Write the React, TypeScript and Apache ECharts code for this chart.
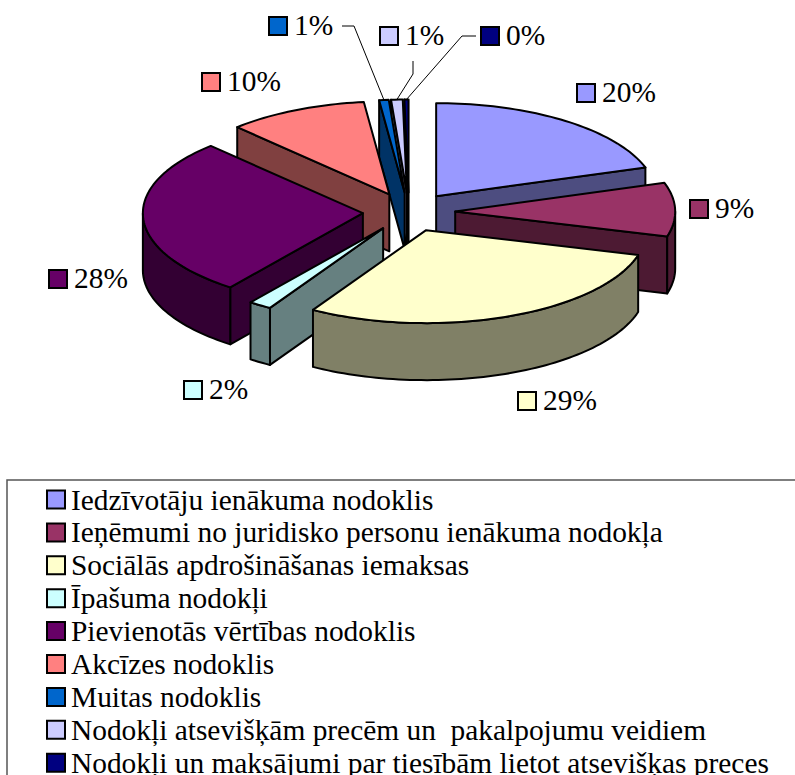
import React, { useEffect, useRef } from "react";
import * as echarts from "echarts";

const categories = [
  "Iedzīvotāju ienākuma nodoklis",
  "Ieņēmumi no juridisko personu ienākuma nodokļa",
  "Sociālās apdrošināšanas iemaksas",
  "Īpašuma nodokļi",
  "Pievienotās vērtības nodoklis",
  "Akcīzes nodoklis",
  "Muitas nodoklis",
  "Nodokļi atsevišķām precēm un  pakalpojumu veidiem",
  "Nodokļi un maksājumi par tiesībām lietot atsevišķas preces",
];
const shares = [20.0, 9.3, 29.3, 1.7, 27.55, 10.3, 0.7, 0.85, 0.3];
const topColors = ["#9999FF", "#993366", "#FFFFCC", "#CCFFFF", "#660066", "#FF8080", "#0066CC", "#CCCCFF", "#000080"];
const wallColors = ["#4D4D80", "#4D1A33", "#808066", "#668080", "#330033", "#804040", "#003366", "#666680", "#000040"];

// back-to-front painting order of the slices
const paintOrder = [8, 7, 6, 5, 0, 1, 4, 3, 2];
// swatch left edge and vertical centre of each value label
const labelAnchors = [
  [577, 93], [690, 209], [518, 401], [184, 390], [49, 279], [202, 82], [269, 26], [380, 36], [481, 36],
];
// leader lines: start and elbow; they end on the slice's rim
const leaders: Record<number, number[][]> = {
  6: [[342, 26], [354, 26]],
  7: [[413, 61], [413, 74]],
  8: [[476, 36], [462, 36]],
};

const CX = 409;
const CY = 212;
const RX = 220;
const RY = 93;
const DEPTH = 57;
const EXPLODE = 0.21;
const FONT = '29.4px "Liberation Serif"';
const total = shares.reduce((a, b) => a + b, 0);

function arcOf(i: number, value: number) {
  const before = shares.slice(0, i).reduce((a, b) => a + b, 0);
  return [(before / total) * 360, ((before + value) / total) * 360];
}
const rad = (d: number) => (d * Math.PI) / 180;

function renderSlice(i: number) {
  return (_: any, api: any) => {
    const [s, e] = arcOf(i, api.value(0));
    const mid = (s + e) / 2;
    const ax = CX + EXPLODE * RX * Math.sin(rad(mid));
    const ay = CY - EXPLODE * RY * Math.cos(rad(mid));
    const rim = (d: number) => [ax + RX * Math.sin(rad(d)), ay - RY * Math.cos(rad(d))];
    const arc = (a: number, b: number) => {
      const n = Math.max(2, Math.ceil(Math.abs(b - a) / 1.5));
      const pts: number[][] = [];
      for (let k = 0; k <= n; k++) pts.push(rim(a + ((b - a) * k) / n));
      return pts;
    };
    const down = (p: number[]) => [p[0], p[1] + DEPTH];
    const edge = { stroke: "#000", lineWidth: 2, lineJoin: "round" };
    const children: any[] = [];
    const wall = (points: number[][]) =>
      children.push({ type: "polygon", shape: { points }, style: { ...edge, fill: wallColors[i] } });

    const sinS = Math.sin(rad(s));
    const sinE = Math.sin(rad(e));
    if (sinS < -1e-6) wall([[ax, ay], rim(s), down(rim(s)), [ax, ay + DEPTH]]);
    if (sinE > 1e-6) wall([[ax, ay], rim(e), down(rim(e)), [ax, ay + DEPTH]]);
    const a = Math.max(s, 90);
    const b = Math.min(e, 270);
    if (b > a) {
      const top = arc(a, b);
      wall([...top, ...top.slice().reverse().map(down)]);
    }
    children.push({
      type: "polygon",
      shape: { points: [[ax, ay], ...arc(s, e)] },
      style: { ...edge, fill: topColors[i] },
    });

    if (leaders[i]) {
      children.push({
        type: "polyline",
        shape: { points: [...leaders[i], rim(mid)] },
        style: { stroke: "#000", lineWidth: 1, fill: "none" },
      });
    }
    const [lx, ly] = labelAnchors[i];
    children.push({
      type: "rect",
      shape: { x: lx, y: ly - 9, width: 18, height: 18 },
      style: { fill: topColors[i], stroke: "#000", lineWidth: 2 },
    });
    children.push({
      type: "text",
      style: {
        x: lx + 25,
        y: ly - 1,
        text: `${api.value(0).toFixed(0)}%`,
        font: FONT,
        fill: "#000",
        align: "left",
        verticalAlign: "middle",
      },
    });
    return { type: "group", children };
  };
}

export default function App() {
  const ref = useRef<HTMLDivElement>(null);
  useEffect(() => {
    const chart = echarts.init(ref.current!, null, { renderer: "svg" });
    chart.setOption({
      animation: false,
      backgroundColor: "#fff",
      graphic: [
        {
          type: "rect",
          z: 0,
          shape: { x: 7, y: 480, width: 800, height: 400 },
          style: { fill: "#fff", stroke: "#555", lineWidth: 1.5 },
        },
      ],
      legend: {
        orient: "vertical",
        left: 46,
        top: 485,
        height: 400,
        padding: 0,
        itemWidth: 18,
        itemHeight: 18,
        itemGap: 3.9,
        selectedMode: false,
        textStyle: {
          fontFamily: "Liberation Serif",
          fontSize: 29.4,
          lineHeight: 27,
          color: "#000",
          padding: [0, 0, 0, 1],
        },
        data: categories.map((name, i) => ({
          name,
          icon: "rect",
          itemStyle: { color: topColors[i], borderColor: "#000", borderWidth: 2 },
        })),
      },
      series: paintOrder.map((i) => ({
        type: "custom",
        name: categories[i],
        coordinateSystem: "none",
        silent: true,
        itemStyle: { color: topColors[i] },
        renderItem: renderSlice(i),
        data: [[shares[i]]],
      })),
    });
    return () => chart.dispose();
  }, []);
  return <div ref={ref} style={{ position: "absolute", left: 0, top: 0, width: 795, height: 775 }} />;
}
